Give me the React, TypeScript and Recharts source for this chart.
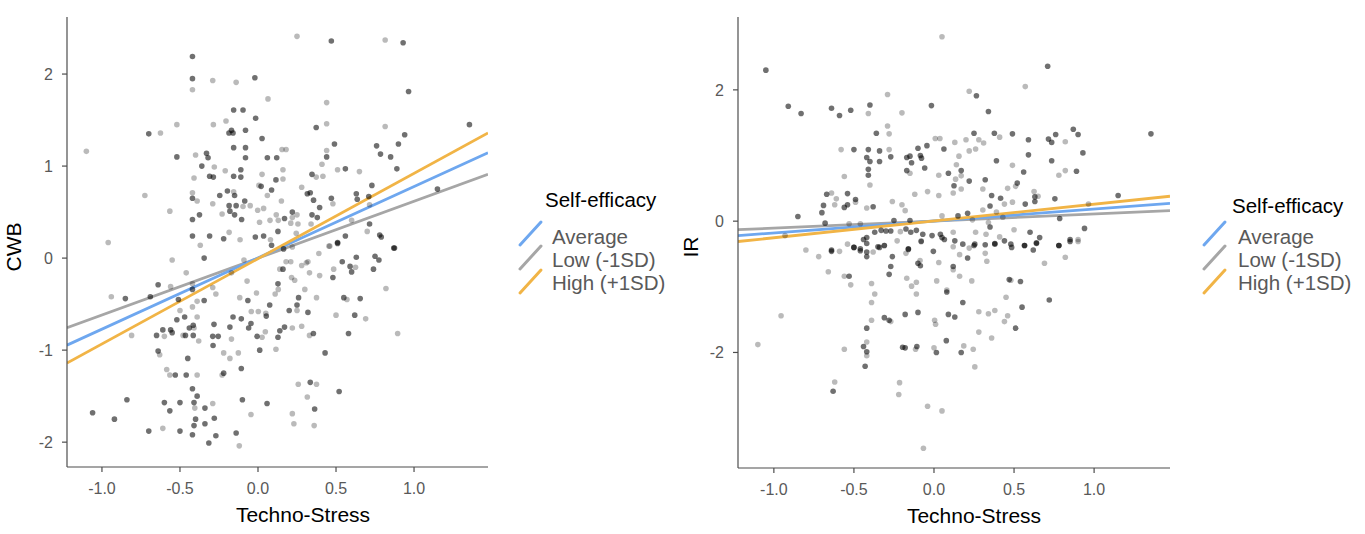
import React from 'react';
import { ComposedChart, Scatter, Line, XAxis, YAxis, Legend } from 'recharts';

// ---------- data ----------
const TECHNO_TICKS = [-1, -0.5, 0, 0.5, 1];
const CWB_TICKS = [-2, -1, 0, 1, 2];
const IR_TICKS = [-2, 0, 2];
const X_DOMAIN: [number, number] = [-1.224, 1.474];
const CWB_DOMAIN: [number, number] = [-2.27, 2.62];
const IR_DOMAIN: [number, number] = [-3.76, 3.11];

const MOD_LABELS = ['Average', 'Low (-1SD)', 'High (+1SD)'];
const MOD_COLORS = ['#6ea7ef', '#a6a6a6', '#f1b446'];
const LINE_X = [-1.224, 1.474];
const CWB_LINE_START = [-0.946, -0.757, -1.14];
const CWB_LINE_END = [1.145, 0.91, 1.36];
const IR_LINE_START = [-0.22, -0.13, -0.31];
const IR_LINE_END = [0.27, 0.16, 0.38];

// CWB scatter (techno-stress, CWB)
const CWB_DARK: [number, number][] = [
  [0.47, 2.36], [0.93, 2.34], [-0.42, 2.19], [-0.42, 1.95], [-0.02, 1.96], [0.965, 1.81], [-0.156, 1.61], [-0.096, 1.61],
  [-0.015, 1.52], [0.373, 1.42], [1.355, 1.45], [-0.7, 1.35], [-0.186, 1.36], [-0.16, 1.36], [-0.17, 1.39], [-0.08, 1.39],
  [0.026, 1.3], [0.94, 1.34], [0.9, 1.24], [0.76, 1.22], [0.49, 1.24], [-0.156, 1.2], [-0.08, 1.2], [-0.52, 1.1],
  [-0.33, 1.14], [-0.32, 1.09], [-0.08, 1.09], [0.06, 1.09], [0.12, 1.09], [0.44, 1.1], [0.785, 1.13], [0.85, 1.1],
  [-0.36, 1.0], [-0.11, 0.96], [0.56, 0.97], [0.89, 0.97], [-0.31, 0.89], [-0.286, 0.88], [-0.156, 0.89], [-0.11, 0.88],
  [0.346, 0.91], [0.115, 0.85], [0.02, 0.78], [0.73, 0.79], [-0.42, 0.65], [-0.245, 0.68], [-0.196, 0.73], [-0.15, 0.68],
  [-0.085, 0.62], [0.087, 0.74], [0.316, 0.7], [0.335, 0.71], [0.356, 0.63], [0.47, 0.65], [0.63, 0.7], [0.636, 0.64],
  [0.71, 0.67], [1.15, 0.75], [-0.185, 0.57], [-0.18, 0.51], [-0.14, 0.57], [-0.42, 0.42], [-0.375, 0.47], [-0.15, 0.47],
  [-0.105, 0.42], [0.17, 0.43], [0.22, 0.5], [0.346, 0.47], [0.38, 0.44], [0.395, 0.55], [0.715, 0.37], [-0.42, 0.24],
  [-0.31, 0.24], [-0.22, 0.21], [-0.017, 0.23], [0.036, 0.24], [0.087, 0.14], [0.128, 0.29], [0.51, 0.17], [0.56, 0.24],
  [0.78, 0.25], [0.79, 0.23], [0.87, 0.11], [-0.345, 0.0], [-0.64, -0.29], [-0.85, -0.44], [-0.69, -0.42], [-0.51, -0.45],
  [-0.42, -0.34], [-0.345, -0.46], [-0.065, -0.46], [0.075, -0.51], [0.128, -0.28], [0.16, -0.12], [0.164, 0.1], [0.26, -0.43],
  [0.25, -0.51], [0.2, -0.57], [0.32, -0.59], [0.51, 0.16], [0.48, -0.21], [0.54, -0.04], [0.59, -0.09], [0.6, -0.15],
  [0.63, 0.01], [0.74, -0.12], [0.75, 0.02], [0.775, -0.02], [0.875, 0.11], [0.55, -0.43], [0.655, -0.44], [0.62, -0.62],
  [0.58, -0.82], [0.43, -1.03], [0.355, -0.82], [0.17, -0.75], [0.14, -0.79], [0.128, -0.86], [-0.006, -0.85], [0.011, -1.0],
  [0.053, -0.63], [-0.045, -0.71], [-0.06, -0.76], [-0.107, -0.66], [-0.16, -0.64], [-0.18, -0.75], [-0.107, -1.2], [-0.22, -1.25],
  [-0.282, -0.72], [-0.29, -0.85], [-0.255, -0.85], [-0.288, -0.95], [-0.415, -0.73], [-0.44, -0.76], [-0.415, -0.84], [-0.465, -0.84],
  [-0.47, -0.64], [-0.52, -0.67], [-0.56, -0.78], [-0.55, -0.81], [-0.61, -0.78], [-0.65, -0.84], [-0.64, -1.01], [-0.45, -1.09],
  [-0.53, -1.27], [-0.46, -1.27], [-0.42, -1.42], [-0.39, -1.5], [-0.41, -1.57], [-0.5, -1.57], [-0.6, -1.57], [-0.565, -1.66],
  [-0.84, -1.54], [-1.06, -1.68], [-0.92, -1.75], [-0.7, -1.88], [-0.5, -1.88], [-0.42, -1.92], [-0.41, -1.82], [-0.4, -1.75],
  [-0.34, -1.8], [-0.34, -1.63], [-0.28, -1.74], [-0.27, -1.93], [-0.315, -2.01], [-0.14, -1.9], [-0.1, -1.54], [0.058, -1.58],
  [0.335, -1.35], [0.363, -1.64], [0.52, -1.45],
];
const CWB_LIGHT: [number, number][] = [
  [0.25, 2.41], [0.815, 2.37], [-0.29, 1.93], [-0.14, 1.91], [-0.42, 1.83], [0.064, 1.73], [0.44, 1.69], [-0.52, 1.45],
  [-0.286, 1.45], [-0.205, 1.49], [0.44, 1.46], [0.815, 1.43], [-0.625, 1.36], [-1.1, 1.16], [0.154, 1.18], [0.18, 1.18],
  [-0.4, 1.12], [0.44, 1.17], [-0.28, 0.99], [-0.21, 0.95], [0.026, 0.91], [0.16, 0.96], [0.41, 1.02], [0.51, 0.96],
  [0.65, 0.94], [0.373, 0.88], [0.416, 0.89], [-0.41, 0.87], [0.16, 0.86], [0.006, 0.79], [0.28, 0.77], [-0.725, 0.68],
  [-0.42, 0.71], [-0.39, 0.62], [-0.29, 0.59], [-0.156, 0.72], [0.06, 0.68], [0.15, 0.62], [0.48, 0.59], [0.715, 0.58],
  [-0.565, 0.51], [-0.096, 0.56], [-0.05, 0.57], [-0.002, 0.52], [0.036, 0.54], [-0.23, 0.48], [0.01, 0.39], [0.077, 0.41],
  [0.117, 0.47], [0.13, 0.41], [0.22, 0.44], [0.25, 0.47], [0.21, 0.38], [0.256, 0.37], [0.34, 0.37], [0.6, 0.41],
  [0.7, 0.29], [-0.115, 0.2], [-0.185, 0.28], [0.08, 0.2], [0.245, 0.27], [0.46, 0.13], [-0.96, 0.17], [-0.37, 0.14],
  [-0.55, -0.02], [-0.46, -0.16], [-0.56, -0.31], [-0.94, -0.42], [-0.42, -0.28], [-0.29, -0.32], [-0.27, -0.39], [-0.39, -0.47],
  [-0.42, -0.53], [-0.09, -0.02], [-0.17, -0.16], [-0.07, -0.25], [-0.117, -0.43], [-0.01, -0.38], [0.11, -0.39], [0.13, -0.34],
  [0.14, -0.12], [0.22, 0.12], [0.18, -0.04], [0.21, -0.04], [0.215, -0.21], [0.235, -0.24], [0.28, -0.08], [0.31, -0.05],
  [0.32, -0.04], [0.33, -0.16], [0.3, -0.34], [0.25, -0.57], [0.395, -0.19], [0.39, 0.05], [0.455, 0.13], [0.485, -0.12],
  [0.625, -0.1], [0.82, -0.33], [0.375, -0.43], [0.57, -0.45], [0.5, -0.62], [0.69, -0.66], [0.895, -0.82], [0.33, -0.84],
  [0.28, -0.74], [0.22, -0.76], [0.115, -0.99], [0.047, -0.8], [0.026, -0.86], [0.05, -0.6], [0.002, -0.58], [-0.043, -0.58],
  [-0.17, -0.88], [-0.126, -1.03], [-0.18, -1.09], [-0.22, -1.03], [-0.23, -1.27], [-0.38, -0.9], [-0.39, -0.64], [-0.41, -0.76],
  [-0.48, -0.84], [-0.5, -0.57], [-0.6, -0.85], [-0.81, -0.84], [-0.63, -1.05], [-0.585, -1.21], [-0.565, -1.27], [-0.39, -1.27],
  [-0.405, -1.63], [-0.61, -1.85], [-0.29, -1.58], [-0.12, -2.04], [-0.045, -1.7], [0.258, -1.37], [0.375, -1.37], [0.316, -1.51],
  [0.22, -1.69], [0.23, -1.8], [0.36, -1.82],
];

// IR scatter (techno-stress, IR)
const IR_DARK: [number, number][] = [
  [-1.05, 2.3], [0.71, 2.36], [0.265, 1.91], [-0.91, 1.75], [-0.83, 1.64], [-0.64, 1.72], [-0.59, 1.61], [-0.52, 1.69],
  [-0.4, 1.77], [-0.016, 1.76], [0.34, 1.67], [1.355, 1.33], [-0.36, 1.34], [-0.5, 1.09], [-0.41, 1.09], [-0.34, 1.07],
  [-0.27, 0.98], [-0.42, 0.97], [-0.4, 0.91], [-0.41, 0.79], [-0.41, 0.7], [-0.34, 0.91], [-0.17, 0.97], [-0.15, 0.99],
  [-0.14, 0.89], [-0.17, 0.77], [-0.1, 1.11], [-0.085, 1.0], [-0.078, 0.96], [-0.058, 0.81], [-0.044, 1.15], [0.062, 1.1],
  [0.09, 0.73], [0.17, 0.77], [0.125, 0.54], [0.25, 1.34], [0.377, 1.34], [0.49, 1.33], [0.59, 1.24], [0.59, 1.01],
  [0.56, 0.75], [0.52, 0.58], [0.39, 0.92], [0.32, 0.63], [0.22, 0.61], [0.36, 0.39], [0.416, 0.35], [0.57, 0.26],
  [0.63, 0.37], [0.63, 0.3], [0.755, 0.34], [0.715, 1.25], [0.735, 1.2], [0.76, 1.32], [0.735, 0.92], [0.87, 1.4],
  [0.9, 1.32], [0.93, 1.04], [0.89, 0.76], [1.15, 0.39], [0.785, 0.04], [0.94, -0.11], [0.85, -0.28], [0.78, -0.37],
  [0.66, -0.25], [0.64, -0.33], [0.6, -0.17], [0.565, -0.37], [0.48, -0.35], [0.44, -0.3], [0.38, -0.34], [0.35, -0.09],
  [0.35, 0.23], [0.21, 0.12], [0.255, -0.35], [0.18, -0.35], [0.15, 0.08], [0.13, -0.3], [0.05, -0.25], [0.065, -0.28],
  [0.04, -0.2], [-0.012, -0.22], [-0.07, -0.2], [-0.11, -0.14], [-0.145, -0.17], [-0.175, -0.12], [-0.16, -0.42], [-0.15, 0.01],
  [-0.25, 0.01], [-0.3, -0.15], [-0.27, -0.15], [-0.33, -0.14], [-0.37, -0.17], [-0.42, -0.25], [-0.44, -0.28], [-0.42, -0.34],
  [-0.35, -0.39], [-0.5, -0.4], [-0.46, -0.42], [-0.68, -0.03], [-0.85, 0.07], [-0.69, 0.24], [-0.7, 0.13], [-0.67, 0.41],
  [-0.54, 0.42], [-0.54, 0.25], [-0.56, 0.21], [-0.49, 0.33], [-0.38, 0.22], [-0.64, -0.44], [-0.64, -0.46], [-0.5, -0.4],
  [-0.46, -0.45], [-0.42, -0.47], [-0.42, -0.54], [-0.34, -0.4], [-0.31, -0.37], [-0.53, -0.84], [-0.26, -0.54], [-0.27, -0.69],
  [-0.28, -0.81], [-0.16, -0.43], [-0.1, -0.64], [-0.085, -0.68], [-0.08, -0.31], [-0.004, -0.46], [0.08, -1.08], [0.12, -0.69],
  [0.21, -0.56], [0.18, -1.24], [0.25, -0.37], [0.32, -0.36], [0.38, -0.35], [0.485, -0.4], [0.566, -0.37], [0.62, -0.44],
  [0.64, -0.34], [0.78, -0.37], [0.85, -0.31], [0.47, -0.89], [0.54, -0.92], [0.72, -1.2], [0.55, -1.31], [0.51, -1.63],
  [0.09, -1.42], [0.13, -1.46], [0.077, -1.82], [0.17, -2.0], [0.015, -2.0], [-0.1, -1.39], [-0.18, -1.42], [-0.31, -1.47],
  [-0.28, -1.51], [-0.42, -1.63], [-0.44, -1.91], [-0.42, -1.99], [-0.43, -2.21], [-0.196, -1.92], [-0.18, -1.93], [-0.107, -1.91],
  [-0.63, -2.59],
];
const IR_LIGHT: [number, number][] = [
  [0.05, 2.81], [0.57, 2.05], [0.22, 1.98], [-0.41, 1.64], [-0.29, 1.93], [-0.2, 1.65], [-0.29, 1.45], [-0.28, 1.33],
  [-0.58, 1.09], [-0.28, 1.09], [-0.4, 0.55], [-0.56, 0.68], [-0.15, 0.73], [0.008, 1.26], [0.037, 1.26], [0.03, 0.7],
  [0.13, 1.2], [0.156, 0.99], [0.14, 0.86], [0.17, 0.69], [0.135, 0.64], [0.17, 0.49], [0.12, 0.43], [0.2, 1.24],
  [0.22, 1.07], [0.26, 1.1], [0.28, 1.24], [0.31, 1.19], [0.41, 1.28], [0.49, 0.85], [0.51, 0.53], [0.46, 0.5],
  [0.305, 0.49], [0.49, 0.29], [0.44, 0.26], [0.625, 0.45], [0.65, 0.38], [0.82, 1.21], [0.78, 0.7], [0.82, 0.77],
  [0.965, 0.26], [0.9, -0.28], [0.5, -0.13], [0.41, -0.24], [0.325, -0.2], [0.34, -0.02], [0.305, 0.17], [0.39, 0.14],
  [0.43, 0.06], [0.26, -0.17], [0.24, 0.02], [0.12, -0.17], [0.05, 0.08], [-0.08, -0.3], [-0.21, -0.16], [-0.23, -0.3],
  [-0.31, -0.37], [-0.54, -0.35], [-0.53, -0.04], [-0.46, -0.04], [-0.93, -0.22], [-0.64, 0.43], [-0.61, 0.34], [-0.62, 0.25],
  [-0.49, 0.29], [-0.42, 0.2], [-0.26, 0.3], [-0.2, 0.25], [-0.18, 0.16], [-0.12, 0.41], [-0.04, 0.45], [0.03, 0.39],
  [-0.8, -0.44], [-0.72, -0.54], [-0.59, -0.46], [-0.38, -0.47], [-0.66, -0.77], [-0.56, -0.84], [-0.52, -0.97], [-0.39, -0.95],
  [-0.37, -1.11], [-0.39, -1.24], [-0.175, -0.49], [-0.087, -0.6], [-0.17, -0.87], [-0.14, -0.99], [-0.11, -0.93], [-0.11, -1.11],
  [0.03, -0.63], [0.017, -0.91], [0.08, -1.05], [0.12, -0.74], [0.12, -0.39], [0.16, -0.51], [0.16, -0.84], [0.236, -0.91],
  [0.22, -0.41], [0.32, -0.49], [0.33, -0.61], [0.69, -0.64], [0.82, -0.55], [0.9, -0.31], [0.48, -0.9], [0.45, -1.16],
  [0.46, -1.44], [0.44, -1.53], [0.38, -1.36], [0.34, -1.41], [0.28, -1.38], [0.28, -1.69], [0.36, -1.78], [0.004, -1.51],
  [0.01, -1.57], [0.186, -1.9], [0.245, -1.95], [0.255, -2.22], [0.0, -1.93], [-0.27, -1.53], [-0.39, -1.51], [-0.42, -1.84],
  [-0.42, -2.05], [-0.56, -1.95], [-0.115, -1.95], [-0.62, -2.45], [-0.955, -1.44], [-1.1, -1.88], [-0.215, -2.46], [-0.22, -2.64],
  [-0.04, -2.82], [0.05, -2.89], [-0.066, -3.46],
];

// ---------- helpers ----------
const FONT = '"Liberation Sans", Arial, Helvetica, sans-serif';
const TEXT_GREY = '#595959';
const AXIS_GREY = '#4d4d4d';

const toPts = (arr: [number, number][]) => arr.map(([x, y]) => ({ x, y }));
const lineData = (i: number, start: number[], end: number[]) => [
  { x: LINE_X[0], y: start[i] },
  { x: LINE_X[1], y: end[i] },
];

const makeDot = (op: number) => (p: any) => (
  <circle cx={p.cx} cy={p.cy} r={2.8} fill="#000" fillOpacity={op} />
);
const darkDot = makeDot(0.56);
const lightDot = makeDot(0.27);

const makeLegend = (titleX: number, titleY: number, textX: number) => () => (
  <svg width={175} height={120} style={{ display: 'block', fontFamily: FONT }}>
    <text x={titleX} y={titleY} fontSize={20.5} fill="#000">Self-efficacy</text>
    {MOD_LABELS.map((lab, i) => (
      <g key={lab}>
        <line x1={6} y1={65 + i * 24} x2={27} y2={42 + i * 24} stroke={MOD_COLORS[i]} strokeWidth={3} strokeLinecap="round" />
        <text x={textX} y={64 + i * 23} fontSize={20.5} fill={TEXT_GREY}>{lab}</text>
      </g>
    ))}
  </svg>
);

const xTitle = (props: any) => {
  const vb = props.viewBox;
  return (
    <text x={vb.x + 236} y={vb.y + 55} textAnchor="middle" fontSize={21} fill="#000" fontFamily={FONT}>
      Techno-Stress
    </text>
  );
};
const yTitle = (name: string, dx: number) => (props: any) => {
  const vb = props.viewBox;
  const cx = vb.x + dx;
  const cy = 247;
  return (
    <text x={cx} y={cy} transform={`rotate(-90, ${cx}, ${cy})`} textAnchor="middle" dominantBaseline="central"
      fontSize={21} fill="#000" fontFamily={FONT}>
      {name}
    </text>
  );
};

type PanelProps = {
  left: number;
  width: number;
  yWidth: number;
  marginRight: number;
  xHeight: number;
  yDomain: [number, number];
  yTicks: number[];
  yName: string;
  yNameDx: number;
  dark: [number, number][];
  light: [number, number][];
  lineStart: number[];
  lineEnd: number[];
  legendLeft: number;
  legendTitleY: number;
  legendTitleX: number;
  legendTextX: number;
};

const Panel = (p: PanelProps) => (
  <div style={{ position: 'absolute', left: p.left, top: 0 }}>
    <ComposedChart width={p.width} height={534} margin={{ top: 17, right: p.marginRight, bottom: 0, left: 0 }}>
      <XAxis
        type="number"
        dataKey="x"
        domain={X_DOMAIN}
        ticks={TECHNO_TICKS}
        allowDataOverflow
        tickFormatter={(v: number) => v.toFixed(1)}
        height={p.xHeight}
        tickSize={5}
        tickMargin={11}
        axisLine={{ stroke: AXIS_GREY, strokeWidth: 1.2 }}
        tickLine={{ stroke: AXIS_GREY, strokeWidth: 1.2 }}
        tick={{ fill: TEXT_GREY, fontSize: 16, fontFamily: FONT }}
        label={xTitle}
      />
      <YAxis
        type="number"
        dataKey="y"
        domain={p.yDomain}
        ticks={p.yTicks}
        allowDataOverflow
        width={p.yWidth}
        tickSize={5}
        tickMargin={9}
        axisLine={{ stroke: AXIS_GREY, strokeWidth: 1.2 }}
        tickLine={{ stroke: AXIS_GREY, strokeWidth: 1.2 }}
        tick={{ fill: TEXT_GREY, fontSize: 16, fontFamily: FONT }}
        label={yTitle(p.yName, p.yNameDx)}
      />
      <Scatter data={toPts(p.light)} dataKey="y" shape={lightDot} isAnimationActive={false} legendType="none" />
      <Scatter data={toPts(p.dark)} dataKey="y" shape={darkDot} isAnimationActive={false} legendType="none" />
      {[1, 0, 2].map((i) => (
        <Line
          key={MOD_LABELS[i]}
          data={lineData(i, p.lineStart, p.lineEnd)}
          dataKey="y"
          name={MOD_LABELS[i]}
          stroke={MOD_COLORS[i]}
          strokeWidth={2.8}
          dot={false}
          activeDot={false}
          isAnimationActive={false}
        />
      ))}
      <Legend
        layout="horizontal"
        align="center"
        verticalAlign="middle"
        content={makeLegend(p.legendTitleX, p.legendTitleY, p.legendTextX)}
        wrapperStyle={{ left: p.legendLeft, top: 180, width: 175, height: 120 }}
      />
    </ComposedChart>
  </div>
);

export default function App() {
  return (
    <div style={{ position: 'absolute', left: 0, top: 0, width: 1365, height: 534, background: '#fff', fontFamily: FONT }}>
      <Panel
        left={0}
        width={690}
        yWidth={67}
        marginRight={202}
        xHeight={67}
        yDomain={CWB_DOMAIN}
        yTicks={CWB_TICKS}
        yName="CWB"
        yNameDx={13}
        dark={CWB_DARK}
        light={CWB_LIGHT}
        lineStart={CWB_LINE_START}
        lineEnd={CWB_LINE_END}
        legendLeft={514}
        legendTitleX={31}
        legendTitleY={27}
        legendTextX={38}
      />
      <Panel
        left={670}
        width={695}
        yWidth={68}
        marginRight={195}
        xHeight={66}
        yDomain={IR_DOMAIN}
        yTicks={IR_TICKS}
        yName="IR"
        yNameDx={20}
        dark={IR_DARK}
        light={IR_LIGHT}
        lineStart={IR_LINE_START}
        lineEnd={IR_LINE_END}
        legendLeft={528}
        legendTitleX={34}
        legendTitleY={33}
        legendTextX={40}
      />
    </div>
  );
}
